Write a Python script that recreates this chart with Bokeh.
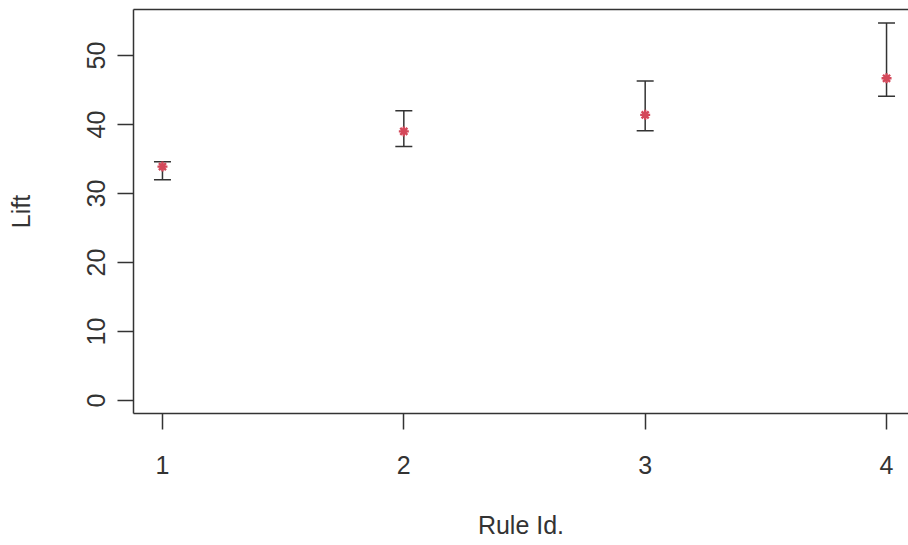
from bokeh.plotting import figure
from bokeh.models import ColumnDataSource, Whisker, TeeHead, FixedTicker, Range1d, LinearAxis
from bokeh.embed import file_html
from bokeh.resources import INLINE

rule_ids = [1, 2, 3, 4]
lift = [33.9, 39.0, 41.4, 46.7]
lift_lower = [32.0, 36.8, 39.1, 44.1]
lift_upper = [34.6, 42.0, 46.3, 54.7]
y_ticks = [0, 10, 20, 30, 40, 50]
x_label = "Rule Id."
y_label = "Lift"

FONT = "Liberation Sans"
INK = "#333333"

src = ColumnDataSource(dict(x=rule_ids, y=lift, lo=lift_lower, hi=lift_upper))

p = figure(width=908, height=545, output_backend="svg", toolbar_location=None,
           x_range=Range1d(0.88, 4.091), y_range=Range1d(-1.88, 56.67),
           min_border_left=133, min_border_right=0, min_border_top=9, min_border_bottom=132)
p.background_fill_color = "white"
p.border_fill_color = "white"
p.outline_line_color = None
p.xgrid.visible = False
p.ygrid.visible = False

xax = p.below[0]
yax = p.left[0]

# top frame line (the right edge of the frame lies outside the picture)
top = LinearAxis(ticker=FixedTicker(ticks=[]), axis_line_color=INK, axis_line_width=1.5,
                 major_tick_line_color=None, minor_tick_line_color=None,
                 major_tick_out=0, major_tick_in=0, major_label_standoff=0,
                 major_label_text_font_size="0px")
p.add_layout(top, "above")

p.add_layout(Whisker(source=src, base="x", lower="lo", upper="hi",
                     line_color=INK, line_width=1.5,
                     upper_head=TeeHead(size=17, line_color=INK, line_width=1.5),
                     lower_head=TeeHead(size=17, line_color=INK, line_width=1.5)))
p.scatter("x", "y", source=src, marker="asterisk", size=10, line_width=2.4,
          line_color="#d4485a")

for ax in (xax, yax):
    ax.axis_line_color = INK
    ax.axis_line_width = 1.5
    ax.major_tick_line_color = INK
    ax.major_tick_line_width = 1.5
    ax.major_tick_out = 16
    ax.major_tick_in = 0
    ax.minor_tick_line_color = None
    ax.major_label_text_font = FONT
    ax.major_label_text_font_size = "25px"
    ax.major_label_text_color = INK
    ax.axis_label_text_font = FONT
    ax.axis_label_text_font_size = "25px"
    ax.axis_label_text_font_style = "normal"
    ax.axis_label_text_color = INK

xax.ticker = FixedTicker(ticks=rule_ids)
yax.ticker = FixedTicker(ticks=y_ticks)
xax.axis_label = x_label
yax.axis_label = y_label
yax.major_label_orientation = "vertical"
xax.major_label_standoff = 26
xax.axis_label_standoff = 34
yax.major_label_standoff = 12
yax.axis_label_standoff = 50

open("out.html", "w").write(file_html(p, INLINE))
